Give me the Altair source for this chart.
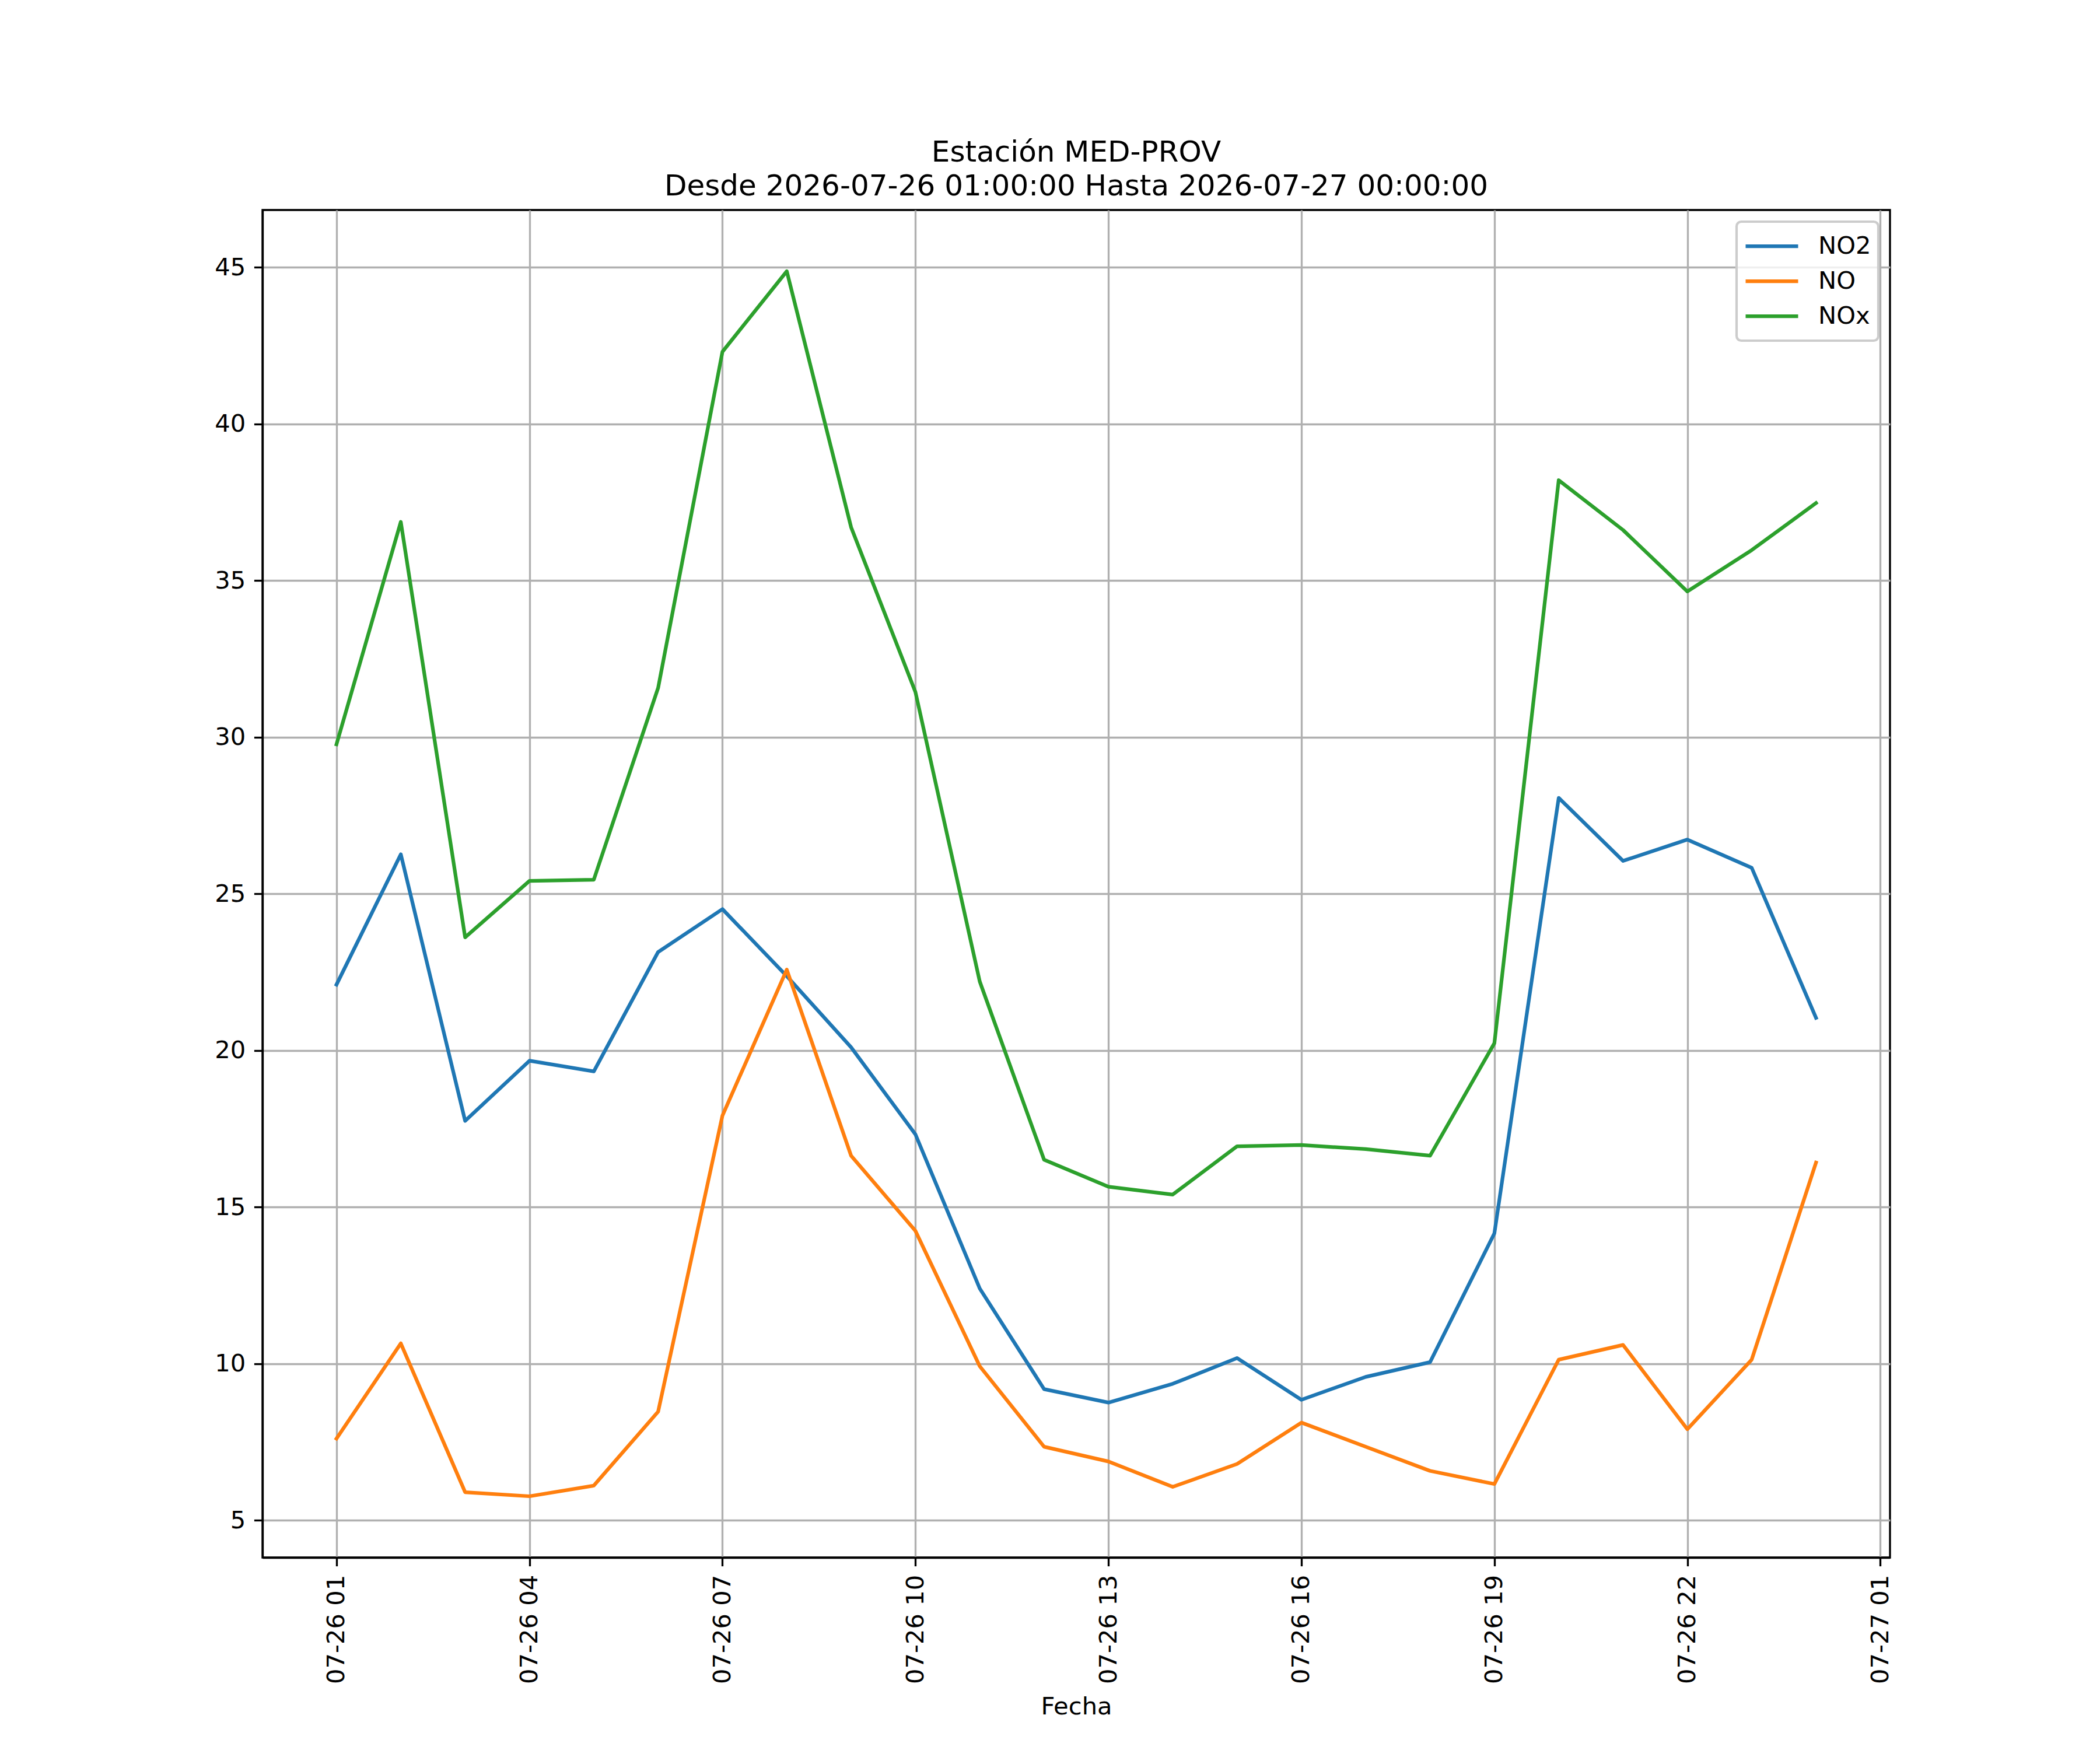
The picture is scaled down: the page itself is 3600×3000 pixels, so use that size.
import altair as alt
import pandas as pd

# hour offsets from 2026-07-26 00:00 (24 = 2026-07-27 00:00)
hours = list(range(1, 25))
series_names = ["NO2", "NO", "NOx"]
series_colors = ["#1f77b4", "#ff7f0e", "#2ca02c"]

no2 = [22.10, 26.26, 17.75, 19.67, 19.33, 23.14, 24.51, 22.37, 20.10, 17.32, 12.40, 9.19,
       8.76, 9.36, 10.18, 8.85, 9.58, 10.05, 14.16, 28.06, 26.05, 26.73, 25.83, 21.04]
no = [7.61, 10.65, 5.90, 5.77, 6.11, 8.47, 17.92, 22.58, 16.64, 14.24, 9.92, 7.35,
      6.88, 6.07, 6.80, 8.12, 7.35, 6.58, 6.16, 10.13, 10.60, 7.91, 10.13, 16.42]
nox = [29.77, 36.87, 23.61, 25.41, 25.45, 31.57, 42.30, 44.87, 36.70, 31.44, 22.20, 16.51,
       15.65, 15.40, 16.94, 16.98, 16.85, 16.64, 20.23, 38.20, 36.61, 34.65, 35.97, 37.47]

y_ticks = [5, 10, 15, 20, 25, 30, 35, 40, 45]
x_tick_hours = [1, 4, 7, 10, 13, 16, 19, 22, 25]

base = pd.Timestamp("2026-07-26 00:00:00")


def iso(h):
    return (base + pd.Timedelta(hours=h)).strftime("%Y-%m-%dT%H:%M:%SZ")


rows = []
for name, vals in zip(series_names, [no2, no, nox]):
    for h, v in zip(hours, vals):
        rows.append({"Fecha": iso(h), "valor": v, "serie": name})
df = pd.DataFrame(rows)

# matplotlib-like 5% margins
span_h = hours[-1] - hours[0]
x_lo = base + pd.Timedelta(hours=hours[0] - 0.05 * span_h)
x_hi = base + pd.Timedelta(hours=hours[-1] + 0.05 * span_h)
all_vals = no2 + no + nox
ymin, ymax = min(all_vals), max(all_vals)
yr = ymax - ymin
y_domain = [ymin - 0.05 * yr, ymax + 0.05 * yr]


def dt(ts):
    return alt.DateTime(year=ts.year, month=ts.month, date=ts.day, hours=ts.hour,
                        minutes=ts.minute, seconds=ts.second, utc=True)


x_values = [dt(base + pd.Timedelta(hours=h)) for h in x_tick_hours]

FONT = "DejaVu Sans"
FS = 41.67

chart = alt.Chart(df).mark_line(strokeWidth=6.25, strokeJoin="round", strokeCap="square").encode(
    x=alt.X("Fecha:T",
            scale=alt.Scale(type="utc", domain=[dt(x_lo), dt(x_hi)], nice=False),
            axis=alt.Axis(values=x_values, format="%m-%d %H", labelAngle=270,
                          title="Fecha", labelOverlap=False, labelFlush=False,
                          labelLimit=1000, titlePadding=35)),
    y=alt.Y("valor:Q",
            scale=alt.Scale(domain=y_domain, nice=False, zero=False),
            axis=alt.Axis(values=y_ticks, format="d", title=None)),
    color=alt.Color("serie:N",
                    scale=alt.Scale(domain=series_names, range=series_colors),
                    legend=alt.Legend(title=None, orient="top-right", offset=20, padding=12,
                                      fillColor="rgba(255,255,255,0.8)", strokeColor="#cccccc",
                                      cornerRadius=8, symbolType="stroke",
                                      symbolSize=8100, symbolStrokeWidth=6.25,
                                      labelFontSize=FS, labelFont=FONT, labelColor="black",
                                      labelOffset=31, clipHeight=60, rowPadding=0)),
    order=alt.Order("serie:N"),
).properties(
    width=2790,
    height=2310,
    title=alt.TitleParams(
        text=["Estación MED-PROV", "Desde 2026-07-26 01:00:00 Hasta 2026-07-27 00:00:00"],
        font=FONT, fontSize=50, fontWeight="normal", color="black", anchor="middle",
        baseline="alphabetic", offset=-25, lineHeight=58),
    autosize=alt.AutoSizeParams(type="none"),
    padding={"left": 442, "top": 352, "right": 352, "bottom": 322},
).configure_view(
    stroke="black", strokeWidth=3.33
).configure_legend(
    strokeWidth=4.17
).configure_axis(
    domainColor="black", domainWidth=3.33, tickColor="black", tickWidth=3.33,
    tickSize=14.6, labelPadding=14.6, labelFont=FONT, labelFontSize=FS, labelColor="black",
    gridColor="#b0b0b0", gridWidth=3.33, grid=True, titleFont=FONT, titleFontSize=FS,
    titleFontWeight="normal", titleColor="black"
)

chart.save("out.html", embed_options={"renderer": "svg", "actions": False})
